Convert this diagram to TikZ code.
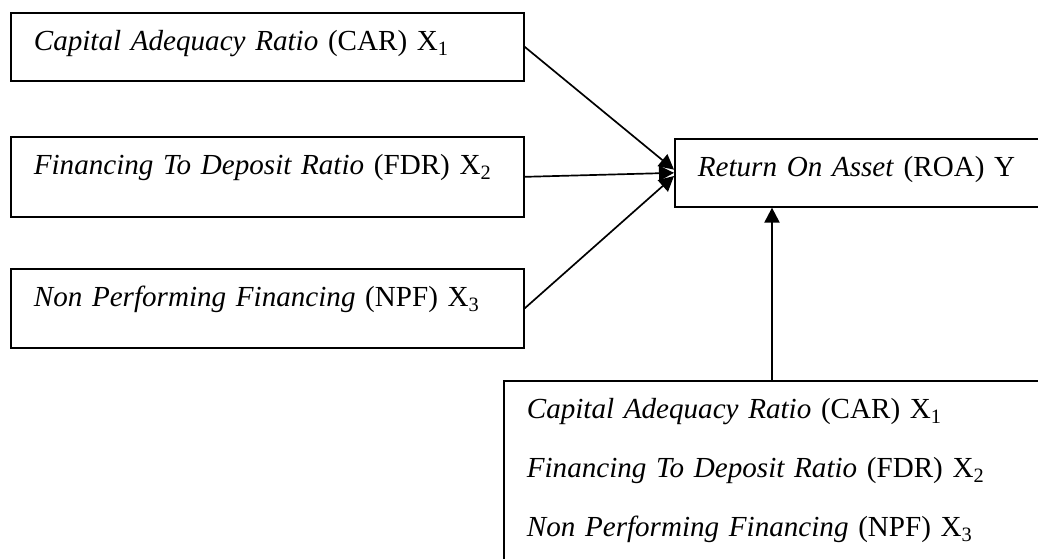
\documentclass[tikz,border=0pt]{standalone}
\usepackage{fontspec}
\setmainfont{Liberation Serif}
\usepackage{tikz}
\usetikzlibrary{positioning,calc,arrows.meta}

\begin{document}
\begin{tikzpicture}[every node/.style={font=\fontsize{20.7}{42}\selectfont, align=left},
        box/.style={draw, line width=1.2pt, anchor=north west, inner xsep=0.575cm,
            inner ysep=0.45cm, text height=0.5cm},
        arr/.style={line width=1.2pt, -{Triangle[length=0.375cm, width=0.38cm]}}]
        \useasboundingbox (0,0) rectangle (25.95,13.975);
        \clip (0,0) rectangle (25.95,13.975);
        \node[box, text width=11.675cm, text depth=0.3cm] (car) at (0.25,13.675)
            {\textit{Capital Adequacy Ratio} (CAR) X\textsubscript{1}};
        \node[box, text width=11.675cm, text depth=0.6cm] (fdr) at (0.25,10.575)
            {\textit{Financing To Deposit Ratio} (FDR) X\textsubscript{2}};
        \node[box, text width=11.675cm, text depth=0.575cm] (npf) at (0.25,7.275)
            {\textit{Non Performing Financing} (NPF) X\textsubscript{3}};
        \node[box, text width=8.6cm, text depth=0.3cm] (roa) at (16.85,10.525)
            {\textit{Return On Asset} (ROA) Y};
        \node[box, text width=13cm, text depth=3.55cm] (ind) at (12.575,4.475)
            {\textit{Capital Adequacy Ratio} (CAR) X\textsubscript{1}\\
             \textit{Financing To Deposit Ratio} (FDR) X\textsubscript{2}\\
             \textit{Non Performing Financing} (NPF) X\textsubscript{3}};
        \draw[arr] (car.east) -- ([yshift=0.08cm]roa.west);
        \draw[arr] (fdr.east) -- (roa.west);
        \draw[arr] (npf.east) -- ([yshift=-0.08cm]roa.west);
        \coordinate (roabase) at ($(roa.south west)+(2.45,0)$);
        \draw[arr] (ind.north -| roabase) -- (roabase);
    \end{tikzpicture}
\end{document}
